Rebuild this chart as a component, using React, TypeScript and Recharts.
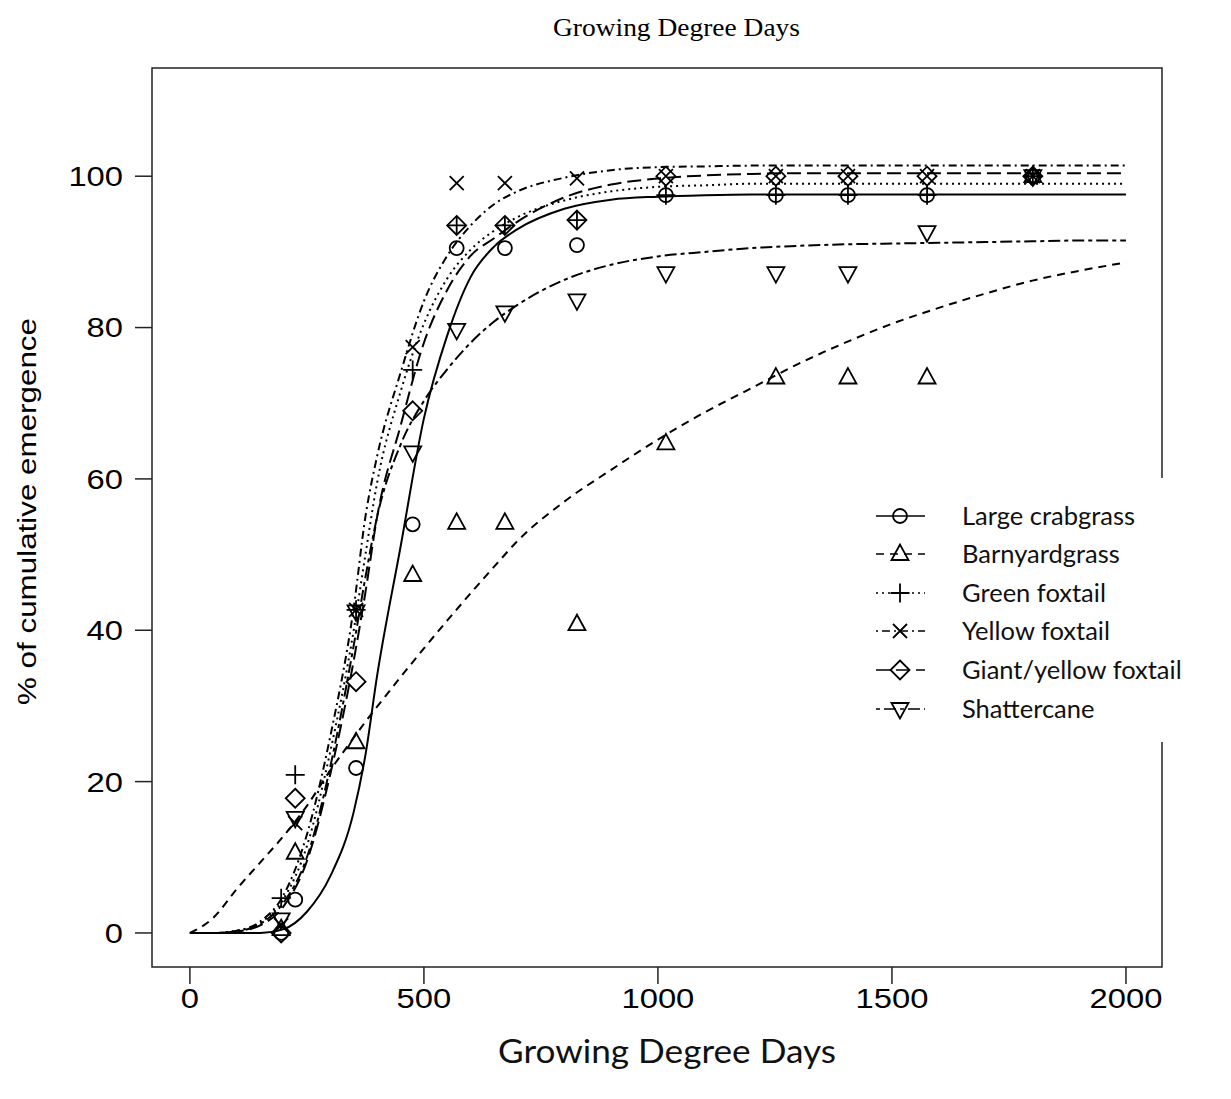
import React from 'react'
import { ComposedChart, Line, Scatter, XAxis, YAxis } from 'recharts'

// fitted curves at these GDD values
const CURVE_GDD = [0, 50, 100, 150, 200, 250, 300, 350, 375, 400, 450, 500, 550, 600, 650, 700, 800, 900, 1000, 1100, 1200, 1300, 1400, 1500, 1600, 1700, 1800, 1900, 2000]

const crabFit = [0, 0, 0, 0, 0.5, 2.8, 7.5, 16, 23.5, 34, 51, 68, 79, 86.7, 90.7, 93, 95.7, 96.9, 97.3, 97.5, 97.6, 97.6, 97.6, 97.6, 97.6, 97.6, 97.6, 97.6, 97.6]
const barnFit = [0, 2, 5.8, 9.3, 12.8, 16.8, 21.5, 25.8, 27.9, 29.9, 33.8, 37.6, 41.3, 44.9, 48.4, 51.8, 57, 61.2, 65.2, 68.8, 72, 75.2, 78, 80.5, 82.6, 84.5, 86.2, 87.5, 88.6]
const greenFit = [0, 0, 0.3, 1.3, 4.5, 11.5, 24, 40, 50, 59.5, 71.5, 80.5, 86.5, 90.3, 92.8, 94.6, 96.8, 98, 98.6, 98.8, 99, 99, 99, 99, 99, 99, 99, 99, 99]
const yellowFit = [0, 0, 0.3, 1.5, 5, 13, 26, 43, 55, 63, 74, 83.5, 89.5, 93.5, 96.3, 98, 99.8, 100.8, 101.2, 101.3, 101.4, 101.4, 101.4, 101.4, 101.4, 101.4, 101.4, 101.4, 101.4]
const giantFit = [0, 0, 0.2, 1, 3.5, 9.5, 21, 36, 45, 55, 67, 78, 85, 89.5, 91.8, 94, 97.2, 98.9, 99.7, 100.1, 100.3, 100.4, 100.4, 100.4, 100.4, 100.4, 100.4, 100.4, 100.4]
const shatterFit = [0, 0, 0.2, 1.2, 4, 10, 22, 38, 47, 55, 64.5, 70.3, 74.5, 78, 80.8, 83, 86.3, 88.3, 89.4, 90, 90.5, 90.8, 91, 91.1, 91.2, 91.3, 91.4, 91.5, 91.5]

// observed emergence
const OBS_GDD = [195, 225, 355, 476, 570, 673, 827, 1017, 1252, 1406, 1575, 1801]

const crabObs = [0, 4.4, 21.8, 54, 90.5, 90.5, 90.9, 97.5, 97.5, 97.5, 97.5, 100]
const barnObs = [0.5, 10.6, 25.2, 47.3, 54.2, 54.2, 40.8, 64.7, 73.4, 73.4, 73.4, 100]
const greenObs = [4.6, 20.9, 42.7, 74.4, 93.5, 93.5, 94.2, 97.5, 97.5, 97.5, 97.5, 100]
const yellowObs = [1, 14.5, 42.7, 77.4, 99.1, 99.1, 99.7, 100, 100, 100, 100, 100]
const giantObs = [0, 17.8, 33.2, 69, 93.5, 93.5, 94.2, 100, 100, 100, 100, 100]
const shatterObs = [1.8, 15.2, 42.5, 63.5, 79.7, 82, 83.6, 87.2, 87.2, 87.2, 92.6, 100]

const X_TICKS = [0, 500, 1000, 1500, 2000]
const Y_TICKS = [0, 20, 40, 60, 80, 100]

type Kind = 'circle' | 'triUp' | 'plus' | 'cross' | 'diamond' | 'triDown'

const SERIES: { name: string; fit: number[]; obs: number[]; dash?: string; marker: Kind }[] = [
  { name: 'Large crabgrass', fit: crabFit, obs: crabObs, marker: 'circle' },
  { name: 'Barnyardgrass', fit: barnFit, obs: barnObs, dash: '8 6', marker: 'triUp' },
  { name: 'Green foxtail', fit: greenFit, obs: greenObs, dash: '2 4', marker: 'plus' },
  { name: 'Yellow foxtail', fit: yellowFit, obs: yellowObs, dash: '2 4 8 4', marker: 'cross' },
  { name: 'Giant/yellow foxtail', fit: giantFit, obs: giantObs, dash: '14 6', marker: 'diamond' },
  { name: 'Shattercane', fit: shatterFit, obs: shatterObs, dash: '4 4 12 4', marker: 'triDown' },
]

const toPoints = (xs: number[], ys: number[]) => xs.map((x, i) => ({ x, y: ys[i] }))

const INK = '#000'
const SANS = "'Liberation Sans', Arial, sans-serif"
const DIGIT_W = 18.2

function Marker({ kind, cx, cy }: { kind: Kind; cx: number; cy: number }) {
  const s = { fill: 'none', stroke: INK, strokeWidth: 1.8 }
  if (kind === 'circle') return <circle cx={cx} cy={cy} r={7} {...s} />
  if (kind === 'triUp')
    return <path d={`M${cx},${cy - 9.5}L${cx - 8.5},${cy + 6}L${cx + 8.5},${cy + 6}Z`} {...s} />
  if (kind === 'triDown')
    return <path d={`M${cx},${cy + 9.5}L${cx - 8.5},${cy - 6}L${cx + 8.5},${cy - 6}Z`} {...s} />
  if (kind === 'plus')
    return <path d={`M${cx - 9.5},${cy}H${cx + 9.5}M${cx},${cy - 9.5}V${cy + 9.5}`} {...s} />
  if (kind === 'cross')
    return <path d={`M${cx - 7},${cy - 7}L${cx + 7},${cy + 7}M${cx - 7},${cy + 7}L${cx + 7},${cy - 7}`} {...s} />
  return <path d={`M${cx},${cy - 9.5}L${cx + 9.5},${cy}L${cx},${cy + 9.5}L${cx - 9.5},${cy}Z`} {...s} />
}

const XTick = (p: any) => {
  const label = String(p.payload.value)
  return (
    <text x={p.x} y={p.y} dy="0.71em" textAnchor="middle" fontSize={28} fontFamily={SANS} fill={INK}
      textLength={label.length * DIGIT_W} lengthAdjust="spacingAndGlyphs">
      {label}
    </text>
  )
}

const YTick = (p: any) => {
  const label = String(p.payload.value)
  return (
    <text x={p.x} y={p.y} dy="0.355em" textAnchor="end" fontSize={28} fontFamily={SANS} fill={INK}
      textLength={label.length * DIGIT_W} lengthAdjust="spacingAndGlyphs">
      {label}
    </text>
  )
}

const LEGEND_ROWS = [516, 554, 593, 631, 670, 709]

export default function App() {
  return (
    <div style={{ position: 'absolute', left: 0, top: 0, width: 1231, height: 1099, background: '#fff' }}>
      <ComposedChart width={1231} height={1099} margin={{ top: 68, right: 69, bottom: 0, left: 0 }}>
        <XAxis
          dataKey="x"
          type="number"
          domain={[-81, 2077]}
          ticks={X_TICKS}
          allowDataOverflow
          axisLine={false}
          tickLine={{ stroke: '#222', strokeWidth: 1.5 }}
          tickSize={17}
          tickMargin={4}
          height={132}
          tick={<XTick />}
        />
        <YAxis
          type="number"
          domain={[-4.5, 114.3]}
          ticks={Y_TICKS}
          allowDataOverflow
          axisLine={false}
          tickLine={{ stroke: '#222', strokeWidth: 1.5 }}
          tickSize={17}
          tickMargin={12}
          width={152}
          tick={<YTick />}
        />
        {SERIES.map((s) => (
          <Line
            key={s.name + '-fit'}
            data={toPoints(CURVE_GDD, s.fit)}
            dataKey="y"
            type="monotone"
            stroke={INK}
            strokeWidth={2}
            strokeDasharray={s.dash}
            dot={false}
            activeDot={false}
            isAnimationActive={false}
          />
        ))}
        {SERIES.map((s) => (
          <Scatter
            key={s.name + '-obs'}
            data={toPoints(OBS_GDD, s.obs)}
            dataKey="y"
            isAnimationActive={false}
            shape={(p: any) => <Marker kind={s.marker} cx={p.cx} cy={p.cy} />}
          />
        ))}
      </ComposedChart>

      <svg width={1231} height={1099} style={{ position: 'absolute', left: 0, top: 0, pointerEvents: 'none' }}>
        <rect x={152} y={68} width={1010} height={899} fill="none" stroke="#222" strokeWidth={1.5} />
        <rect x={858} y={478} width={373} height={264} fill="#fff" />
        {SERIES.map((s, i) => {
          const y = LEGEND_ROWS[i]
          return (
            <g key={s.name}>
              <line x1={876} x2={925} y1={y} y2={y} stroke={INK} strokeWidth={1.5} strokeDasharray={s.dash} />
              <Marker kind={s.marker} cx={900} cy={y} />
              <text x={962} y={y + 9} fontSize={25.5} fontFamily="Lato, 'Open Sans', sans-serif" fill="#111">
                {s.name}
              </text>
            </g>
          )
        })}
        <text x={553} y={36} fontSize={26} fontFamily="'Liberation Serif', 'Times New Roman', serif" fill={INK}
          textLength={247} lengthAdjust="spacingAndGlyphs">
          Growing Degree Days
        </text>
        <text x={498} y={1063} fontSize={33} fontFamily="Lato, 'Open Sans', sans-serif" fill="#111"
          textLength={338} lengthAdjust="spacingAndGlyphs">
          Growing Degree Days
        </text>
        <text
          x={0}
          y={0}
          transform="translate(36,705) rotate(-90)"
          fontSize={26}
          fontFamily={SANS}
          fill={INK}
          textLength={387}
          lengthAdjust="spacingAndGlyphs"
        >
          % of cumulative emergence
        </text>
      </svg>
    </div>
  )
}
